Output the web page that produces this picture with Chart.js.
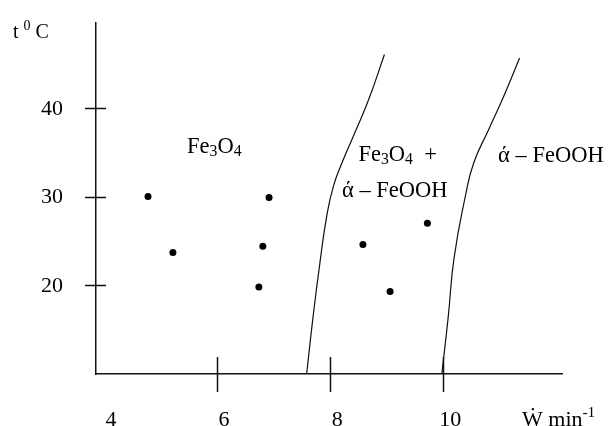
<!DOCTYPE html>
<html>
<head>
<meta charset="utf-8">
<script src="https://cdn.jsdelivr.net/npm/chart.js@4/dist/chart.umd.min.js"></script>
<style>
  html, body { margin: 0; padding: 0; background: #fff; }
  #wrap { width: 614px; height: 426px; }
</style>
</head>
<body>
<div id="wrap"><canvas id="chart" width="614" height="426"></canvas></div>
<script>
// tick labels / tick marks
const xTickLabels = [4, 6, 8, 10];
const xTickMarks = [6, 8, 10];
const yTickLabels = [20, 30, 40];
const yTickMarks = [20, 30, 40];

// measured points (W, t)
const pointW = [4.78, 5.22, 6.92, 6.81, 6.74, 8.58, 9.72, 9.06];
const pointT = [30.0, 23.7, 29.9, 24.4, 19.8, 24.6, 27.0, 19.3];

// phase boundaries
const bound1W = [7.585, 7.70, 7.82, 7.94, 8.06, 8.21, 8.41, 8.68, 8.96];
const bound1T = [10, 16.55, 22.55, 27.8, 31.2, 33.8, 36.8, 40.9, 46.0];
const bound2W = [9.975, 10.09, 10.19, 10.39, 10.54, 10.80, 11.07, 11.35];
const bound2T = [10, 16.55, 23.0, 30.0, 33.8, 37.5, 41.3, 45.6];

// region names: [text, 0 normal | 1 sub | 2 sup]
const regionText = [
  [["Fe", 0], ["3", 1], ["O", 0], ["4", 1]],
  [["Fe", 0], ["3", 1], ["O", 0], ["4", 1], ["  +", 0]],
  [["\u03AC \u2013 FeOOH", 0]],
  [["\u03AC \u2013 FeOOH", 0]],
];
const regionW = [5.47, 8.50, 8.21, 10.97];
const regionT = [34.9, 34.0, 30.0, 33.9];

const FONT = "'Liberation Serif', 'Times New Roman', serif";

const zip = (xs, ys) => xs.map((x, i) => ({ x, y: ys[i] }));

function drawRich(ctx, parts, x, y, size) {
  let cx = x;
  for (const [txt, mode] of parts) {
    const s = mode ? size * 0.7 : size;
    const dy = mode === 1 ? size * 0.15 : mode === 2 ? -size * 0.42 : 0;
    ctx.font = `${s}px ${FONT}`;
    ctx.fillText(txt, cx, y + dy);
    cx += ctx.measureText(txt).width;
  }
}

const decor = {
  id: "decor",
  afterDraw(chart) {
    const { ctx, chartArea: a, scales: { x, y } } = chart;
    ctx.save();
    ctx.strokeStyle = "#111";
    ctx.lineWidth = 1.5;
    ctx.beginPath();
    for (const v of xTickMarks) {
      const px = Math.round(x.getPixelForValue(v)) + 0.5;
      ctx.moveTo(px, a.bottom - 17);
      ctx.lineTo(px, a.bottom + 18);
    }
    for (const v of yTickMarks) {
      const py = Math.round(y.getPixelForValue(v)) + 0.5;
      ctx.moveTo(a.left - 11, py);
      ctx.lineTo(a.left + 10, py);
    }
    ctx.stroke();

    ctx.fillStyle = "#000";
    ctx.textBaseline = "alphabetic";
    ctx.textAlign = "left";
    regionText.forEach((parts, i) => {
      drawRich(ctx, parts, x.getPixelForValue(regionW[i]), y.getPixelForValue(regionT[i]), 22.5);
    });

    // axis titles
    drawRich(ctx, [["t", 0], [" ", 0], ["0", 2], [" C", 0]], a.left - 83, a.top + 15, 20);
    drawRich(ctx, [["\u1E86 min", 0], ["-1", 2]], a.right - 40, a.bottom + 52, 22);
    ctx.restore();
  }
};

new Chart(document.getElementById("chart"), {
  type: "scatter",
  data: {
    datasets: [
      {
        label: "points",
        data: zip(pointW, pointT),
        pointRadius: 3.5,
        pointBackgroundColor: "#000",
        pointBorderWidth: 0,
        showLine: false,
      },
      {
        label: "boundary 1",
        data: zip(bound1W, bound1T),
        showLine: true,
        borderColor: "#111",
        borderWidth: 1.2,
        pointRadius: 0,
        tension: 0.5,
      },
      {
        label: "boundary 2",
        data: zip(bound2W, bound2T),
        showLine: true,
        borderColor: "#111",
        borderWidth: 1.2,
        pointRadius: 0,
        tension: 0.5,
      },
    ],
  },
  options: {
    responsive: false,
    animation: false,
    devicePixelRatio: 1,
    layout: { padding: { top: 23, right: 52, left: 0, bottom: 0 } },
    plugins: { legend: { display: false }, tooltip: { enabled: false } },
    scales: {
      x: {
        type: "linear",
        min: 3.86,
        max: 12.1,
        afterBuildTicks: (s) => { s.ticks = xTickLabels.map(v => ({ value: v })); },
        afterFit: (s) => { s.height = 52; s.paddingLeft = 0; s.paddingRight = 0; },
        grid: { display: false, drawTicks: false },
        border: { display: true, color: "#111", width: 1.5 },
        ticks: {
          color: "#000",
          font: { family: FONT, size: 22 },
          padding: 33,
          labelOffset: 7,
          maxRotation: 0,
        },
      },
      y: {
        type: "linear",
        min: 10,
        max: 49.55,
        afterBuildTicks: (s) => { s.ticks = yTickLabels.map(v => ({ value: v })); },
        afterFit: (s) => { s.width = 96; s.paddingTop = 0; s.paddingBottom = 0; },
        grid: { display: false, drawTicks: false },
        border: { display: true, color: "#111", width: 1.5 },
        ticks: {
          color: "#000",
          font: { family: FONT, size: 22 },
          padding: 33,
          labelOffset: 1,
        },
      },
    },
  },
  plugins: [decor],
});
</script>
</body>
</html>
